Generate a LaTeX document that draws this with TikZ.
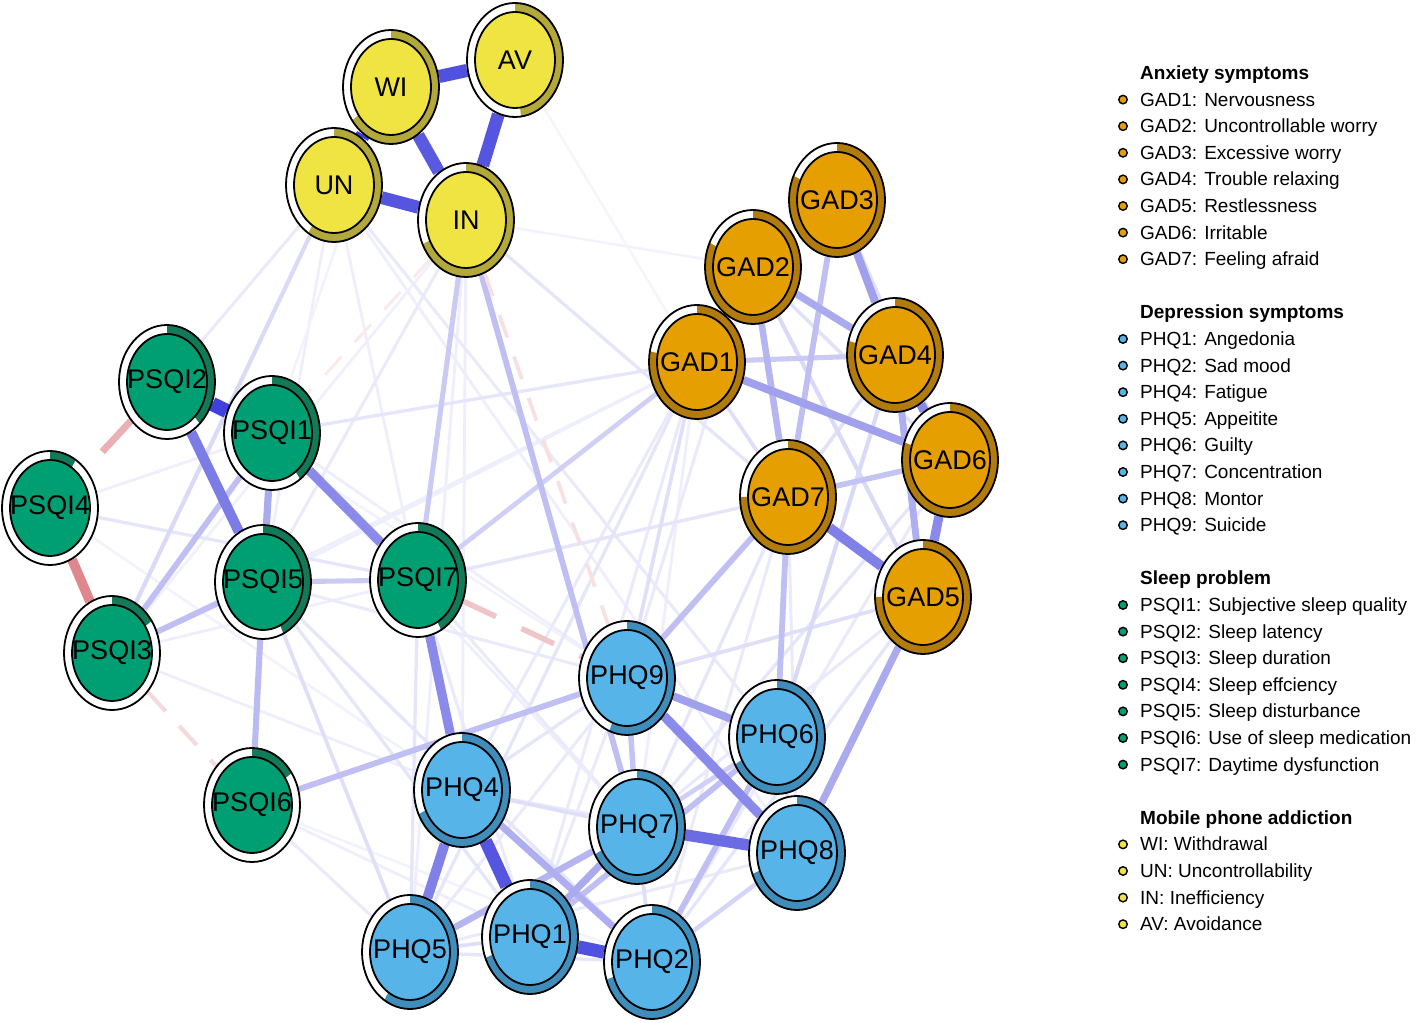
\documentclass[tikz,border=0pt]{standalone}
\usepackage{fontspec}
\setmainfont{Liberation Sans}
\usetikzlibrary{shapes.geometric}

\definecolor{GAD}{HTML}{E69F00}
\definecolor{GADdark}{HTML}{B27C0C}
\definecolor{PHQ}{HTML}{56B4E9}
\definecolor{PHQdark}{HTML}{3F8DBB}
\definecolor{PSQI}{HTML}{009E73}
\definecolor{PSQIdark}{HTML}{127A58}
\definecolor{MPA}{HTML}{F0E442}
\definecolor{MPAdark}{HTML}{B3A83A}
\definecolor{pos}{HTML}{2B2BD8}
\definecolor{neg}{HTML}{C8303A}

\pgfdeclarelayer{bg}
\pgfdeclarelayer{edges}
\pgfsetlayers{bg,edges,main}

\newcommand{\lab}[1]{\makebox[0pt]{#1}}

\tikzset{
  % node with predictability ring: group colour, share of the ring
  sym/.style 2 args={ellipse, minimum width=96pt, minimum height=114pt, inner sep=0pt,
    draw=black, line width=1.8pt, fill=white, font=\fontsize{27}{27}\selectfont,
    path picture={
      \fill[#1dark] (path picture bounding box.center) -- ++(0pt,57pt)
        arc[start angle=90, delta angle={-360*#2}, x radius=48pt, y radius=57pt] -- cycle;
      \filldraw[fill=#1, draw=black, line width=1.8pt] (path picture bounding box.center)
        ellipse[x radius=40pt, y radius=48pt];
    }},
  pe/.style={line width={(1.6+0.14*#1)*1pt}, draw=pos!#1!white},
  ne/.style={line width={(1.6+0.14*#1)*1pt}, draw=neg!#1!white},
  hdr/.style={anchor=base west, inner sep=0pt, font=\bfseries\fontsize{19}{19}\selectfont},
  item/.style={anchor=base west, inner sep=0pt, font=\fontsize{19}{19}\selectfont},
  dot/.style={circle, draw=black, line width=1.4pt, minimum size=8.5pt, inner sep=0pt}
}

\begin{document}
\begin{tikzpicture}[x=1pt,y=1pt]
\begin{pgfonlayer}{bg}
  \fill[white] (0,0) rectangle (1417,1023);
\end{pgfonlayer}
\useasboundingbox (0,0) rectangle (1417,1023);

% anxiety
\node[sym={GAD}{0.78}] (GAD1) at (697,661) {\lab{GAD1}};
\node[sym={GAD}{0.82}] (GAD3) at (837,823) {\lab{GAD3}};
\node[sym={GAD}{0.82}] (GAD2) at (753,756) {\lab{GAD2}};
\node[sym={GAD}{0.79}] (GAD4) at (895,668) {\lab{GAD4}};
\node[sym={GAD}{0.75}] (GAD5) at (923,426) {\lab{GAD5}};
\node[sym={GAD}{0.80}] (GAD6) at (950,563) {\lab{GAD6}};
\node[sym={GAD}{0.75}] (GAD7) at (788,526) {\lab{GAD7}};
% depression
\node[sym={PHQ}{0.69}] (PHQ1) at (530,86) {\lab{PHQ1}};
\node[sym={PHQ}{0.70}] (PHQ2) at (652,61) {\lab{PHQ2}};
\node[sym={PHQ}{0.68}] (PHQ4) at (462,233) {\lab{PHQ4}};
\node[sym={PHQ}{0.59}] (PHQ5) at (410,71) {\lab{PHQ5}};
\node[sym={PHQ}{0.67}] (PHQ6) at (777,286) {\lab{PHQ6}};
\node[sym={PHQ}{0.67}] (PHQ7) at (637,196) {\lab{PHQ7}};
\node[sym={PHQ}{0.69}] (PHQ8) at (797,170) {\lab{PHQ8}};
\node[sym={PHQ}{0.56}] (PHQ9) at (627,345) {\lab{PHQ9}};
% sleep
\node[sym={PSQI}{0.40}] (PSQI1) at (272,590) {\lab{PSQI1}};
\node[sym={PSQI}{0.38}] (PSQI2) at (167,641) {\lab{PSQI2}};
\node[sym={PSQI}{0.155}] (PSQI3) at (112,370) {\lab{PSQI3}};
\node[sym={PSQI}{0.09}] (PSQI4) at (50,515) {\lab{PSQI4}};
\node[sym={PSQI}{0.43}] (PSQI5) at (263,441) {\lab{PSQI5}};
\node[sym={PSQI}{0.155}] (PSQI6) at (252,218) {\lab{PSQI6}};
\node[sym={PSQI}{0.42}] (PSQI7) at (418,443) {\lab{PSQI7}};
% mobile phone addiction
\node[sym={MPA}{0.65}] (WI) at (391,936) {\lab{WI}};
\node[sym={MPA}{0.59}] (UN) at (334,838) {\lab{UN}};
\node[sym={MPA}{0.68}] (IN) at (466,803) {\lab{IN}};
\node[sym={MPA}{0.48}] (AV) at (515,963) {\lab{AV}};

\begin{pgfonlayer}{edges}
  % weak edges first, strong ones on top
  \foreach \a/\b/\w in {UN/PSQI5/8, UN/PHQ8/8, UN/PHQ4/8, WI/PSQI1/6, IN/PSQI3/7,
      IN/GAD2/6, IN/PHQ4/8, IN/PHQ5/8, AV/GAD1/5, PSQI4/PSQI1/8, PSQI4/PHQ4/6,
      PSQI3/PSQI7/8, PSQI3/PHQ4/8, PSQI2/PHQ9/6, PSQI1/PHQ9/8, PSQI1/PHQ7/8,
      PSQI5/GAD1/8, PSQI7/GAD6/8, PSQI6/PHQ1/8, PSQI6/PHQ2/6, GAD1/PHQ7/8,
      GAD1/PSQI3/8, UN/PSQI2/10, UN/PHQ6/10, IN/PSQI5/10, PSQI5/PHQ9/10,
      PSQI7/PHQ1/10, PSQI7/PHQ7/10, PSQI6/PHQ5/10, GAD1/PHQ4/10, GAD1/PHQ1/10,
      GAD2/PHQ9/10, GAD6/PHQ2/10, GAD5/PHQ7/10, GAD7/PHQ8/10, GAD7/PHQ2/10,
      PHQ9/PHQ5/10, PHQ9/PHQ1/10, PHQ4/PHQ8/10, PHQ5/PHQ8/10, IN/GAD7/12,
      PSQI4/PSQI7/12, PSQI1/GAD1/12, PSQI5/PHQ1/12, PSQI5/PHQ2/12, PSQI7/GAD7/12,
      PSQI7/PHQ5/12, GAD1/PHQ5/12, GAD6/PHQ7/12, GAD5/PHQ2/12, GAD7/PHQ7/12,
      PHQ9/PHQ4/12, PHQ5/PHQ2/12, GAD2/GAD6/14, GAD4/GAD7/14, PSQI5/PHQ5/15,
      GAD3/GAD6/15, GAD1/GAD7/15, GAD5/PHQ9/15, GAD1/PHQ9/15, PHQ4/PHQ7/15,
      PHQ5/PHQ1/15, PHQ6/PHQ8/15, PHQ7/PHQ2/15, UN/PSQI3/18, GAD2/GAD5/18,
      GAD4/PHQ6/18, PHQ2/PHQ8/20, PSQI7/GAD1/22, PHQ6/PHQ7/22, PSQI5/PSQI7/25,
      IN/PSQI7/25, GAD1/GAD4/25, GAD7/GAD6/28, PHQ9/PHQ7/28, PSQI3/PSQI5/30,
      PSQI3/PSQI1/30, PSQI6/PHQ9/30, IN/PHQ7/30, GAD7/PHQ9/30, GAD7/PHQ6/30,
      GAD3/GAD7/30, PHQ1/PHQ6/30, PHQ2/PHQ6/30, PSQI5/PSQI6/32, GAD2/GAD7/35,
      PHQ5/PHQ7/35, GAD4/GAD5/38, PHQ4/PHQ2/38, PSQI1/PSQI5/40, GAD5/PHQ8/40,
      PHQ1/PHQ7/40, GAD2/GAD4/40, GAD3/GAD4/45, GAD1/GAD6/45, PHQ9/PHQ6/45,
      GAD4/GAD6/55, GAD6/GAD5/55, PSQI1/PSQI7/55, PSQI7/PHQ4/55, PHQ9/PHQ8/55,
      GAD7/GAD5/60, PHQ4/PHQ5/60, PSQI2/PSQI5/62, PHQ7/PHQ8/70, WI/IN/78,
      PHQ4/PHQ1/80, UN/IN/80, AV/IN/80, PHQ1/PHQ2/82, WI/AV/82, PSQI2/PSQI1/90,
      UN/WI/90}
    \draw[pe=\w] (\a) -- (\b);
  % negative edges
  \draw[ne=10, dash pattern=on 24pt off 20pt] (IN) -- (PSQI1);
  \draw[ne=15, dash pattern=on 24pt off 20pt] (IN) -- (PHQ9);
  \draw[ne=18, dash pattern=on 26pt off 20pt] (PSQI3) -- (PSQI6);
  \draw[ne=28, dash pattern=on 36pt off 28pt] (PSQI7) -- (PHQ9);
  \draw[ne=38, dash pattern=on 42pt off 30pt] (PSQI2) -- (PSQI4);
  \draw[ne=58, dash pattern=on 60pt off 30pt] (PSQI4) -- (PSQI3);
\end{pgfonlayer}

% legend
\node[hdr] (hGAD) at (1140,943.5) {Anxiety symptoms};
\foreach \t [count=\i] in {GAD1: Nervousness, GAD2: Uncontrollable worry,
    GAD3: Excessive worry, GAD4: Trouble relaxing, GAD5: Restlessness,
    GAD6: Irritable, GAD7: Feeling afraid}{
  \node[item] (lGAD\i) at (1140,{943.5-26.6*\i}) {\t};
  \node[dot, fill=GAD] (dGAD\i) at (1123,{950-26.6*\i}) {};
}
\node[hdr] (hPHQ) at (1140,{943.5-26.6*9}) {Depression symptoms};
\foreach \t [count=\i from 10] in {PHQ1: Angedonia, PHQ2: Sad mood, PHQ4: Fatigue,
    PHQ5: Appeitite, PHQ6: Guilty, PHQ7: Concentration, PHQ8: Montor,
    PHQ9: Suicide}{
  \node[item] (lPHQ\i) at (1140,{943.5-26.6*\i}) {\t};
  \node[dot, fill=PHQ] (dPHQ\i) at (1123,{950-26.6*\i}) {};
}
\node[hdr] (hPSQI) at (1140,{943.5-26.6*19}) {Sleep problem};
\foreach \t [count=\i from 20] in {PSQI1: Subjective sleep quality,
    PSQI2: Sleep latency, PSQI3: Sleep duration, PSQI4: Sleep effciency,
    PSQI5: Sleep disturbance, PSQI6: Use of sleep medication,
    PSQI7: Daytime dysfunction}{
  \node[item] (lPSQI\i) at (1140,{943.5-26.6*\i}) {\t};
  \node[dot, fill=PSQI] (dPSQI\i) at (1123,{950-26.6*\i}) {};
}
\node[hdr] (hMPA) at (1140,{943.5-26.6*28}) {Mobile phone addiction};
\foreach \t [count=\i from 29] in {WI: Withdrawal, UN: Uncontrollability,
    IN: Inefficiency, AV: Avoidance}{
  \node[item] (lMPA\i) at (1140,{943.5-26.6*\i}) {\t};
  \node[dot, fill=MPA] (dMPA\i) at (1123,{950-26.6*\i}) {};
}
\end{tikzpicture}
\end{document}
